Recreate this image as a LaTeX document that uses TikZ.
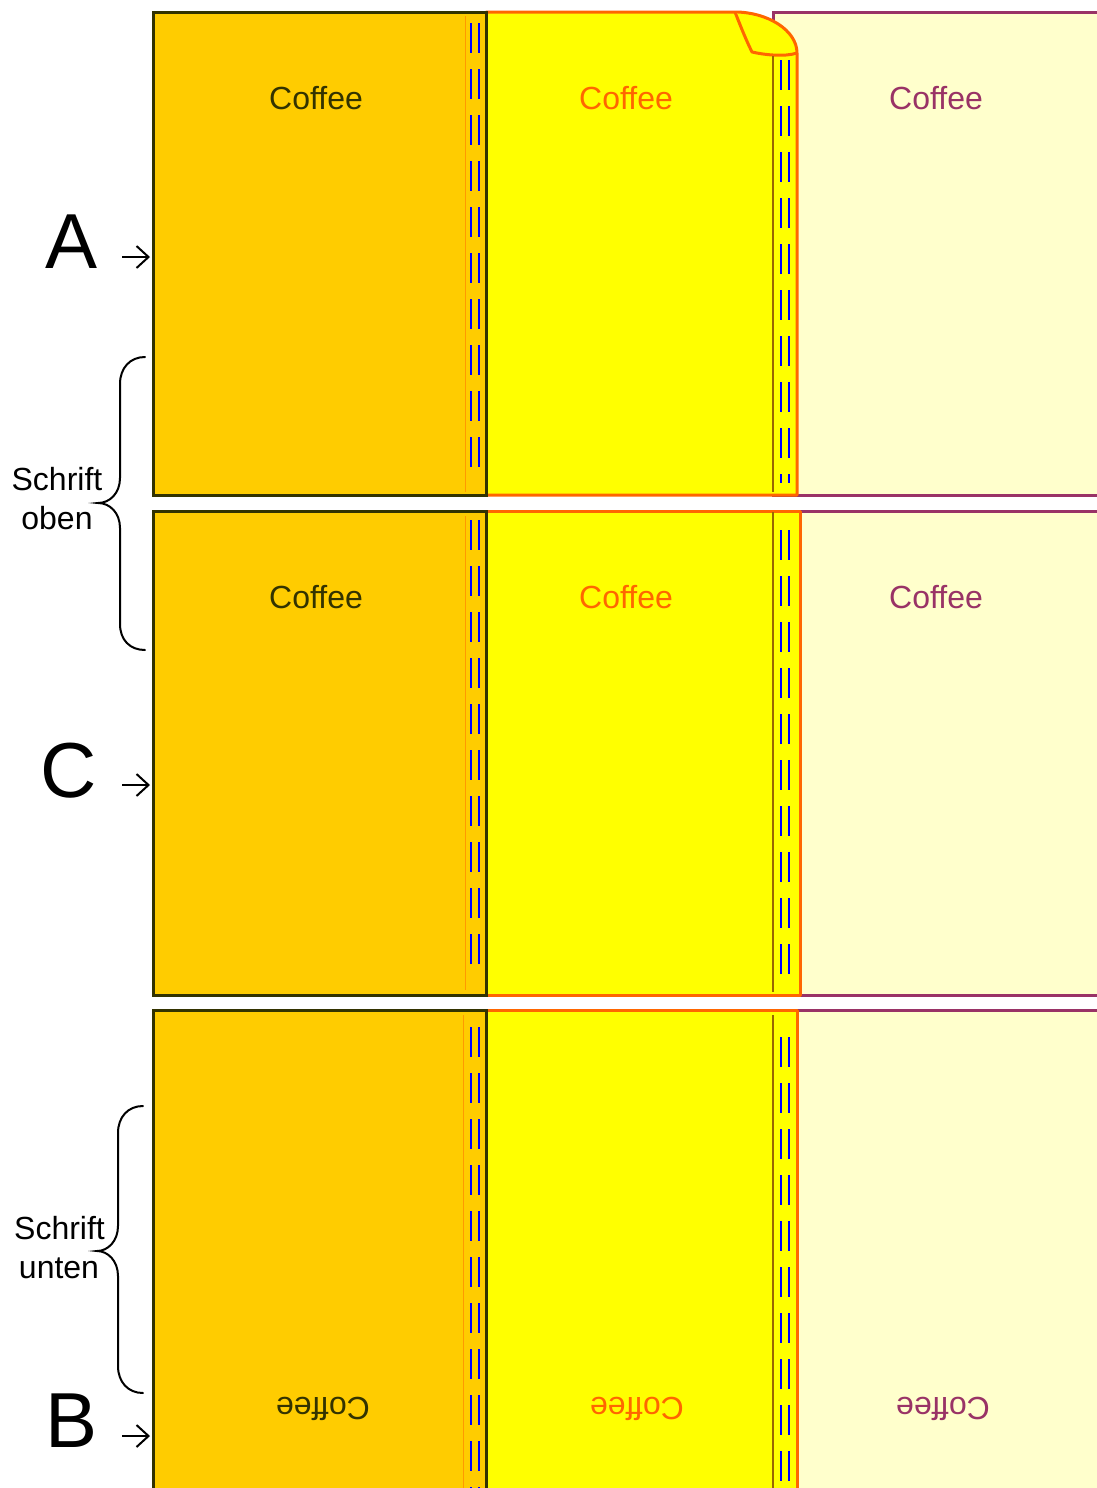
\documentclass[tikz,border=0pt]{standalone}
\usepackage{fontspec}
\setmainfont{Liberation Sans}
\usetikzlibrary{arrows.meta}
\definecolor{ofill}{HTML}{FFCC00}
\definecolor{oline}{HTML}{333300}
\definecolor{yfill}{HTML}{FFFF00}
\definecolor{yline}{HTML}{FF6600}
\definecolor{cfill}{HTML}{FFFFCC}
\definecolor{cline}{HTML}{993366}
\definecolor{sbrown}{HTML}{996600}
\definecolor{sorange}{HTML}{FF9900}
\begin{document}
\begin{tikzpicture}[x=0.5pt,y=-0.5pt,
  pone/.style={fill=ofill,draw=oline,line width=1.5pt},
  ptwo/.style={fill=yfill,draw=yline,line width=1.5pt,line join=round},
  pthree/.style={fill=cfill,draw=cline,line width=1.5pt},
  sline1/.style={draw=sorange,line width=0.5pt},
  sline2/.style={draw=sbrown,line width=0.6pt},
  stitch/.style={draw=blue,line width=1pt,dash pattern=on 15pt off 8pt},
  cof/.style={font=\fontsize{16}{19}\selectfont,anchor=base,inner sep=0pt},
  cof1/.style={cof,text=oline},
  cof2/.style={cof,text=yline},
  cof3/.style={cof,text=cline},
  lab/.style={font=\fontsize{16}{19}\selectfont,anchor=base,inner sep=0pt,text=black},
  big/.style={font=\fontsize{39}{40}\selectfont,anchor=base,inner sep=0pt,text=black},
  arr/.style={draw=black,line width=1pt,-{Straight Barb[length=6pt,width=11pt]}},
  bracel/.style={draw=black,line width=1pt,line cap=round}]
\useasboundingbox (0,0) rectangle (1097,1488);
\begin{scope}
\clip (0,0) rectangle (1097,1488);
% ---------- Row A ----------
\draw[pthree] (773,12) rectangle (1115,495);
\draw[ptwo] (486,12) -- (735,12) .. controls (767,12) and (797,30) .. (797,53) -- (797,495) -- (486,495) -- cycle;
\draw[ptwo] (735,12) .. controls (742,30) and (747,42) .. (752,52) .. controls (765,55) and (785,57) .. (797,53);
\draw[sline2] (773,56) -- (773,492);
\draw[stitch] (781,60) -- (781,483);
\draw[stitch] (789,60) -- (789,483);
\draw[pone] (153,12) rectangle (486,495);
\draw[sline1] (465,16) -- (465,492);
\draw[stitch] (471,23) -- (471,467);
\draw[stitch] (479,23) -- (479,467);
\node[cof1] (a1) at (316,109) {Coffee};
\node[cof2] (a2) at (626,109) {Coffee};
\node[cof3] (a3) at (936,109) {Coffee};
% ---------- Row C ----------
\draw[pthree] (800,511) rectangle (1115,995);
\draw[ptwo] (486,511) rectangle (800,995);
\draw[sline2] (773,512) -- (773,992);
\draw[stitch] (781,530) -- (781,974);
\draw[stitch] (789,530) -- (789,974);
\draw[pone] (153,511) rectangle (486,995);
\draw[sline1] (465,516) -- (465,990);
\draw[stitch] (471,520) -- (471,964);
\draw[stitch] (479,520) -- (479,964);
\node[cof1] (c1) at (316,608) {Coffee};
\node[cof2] (c2) at (626,608) {Coffee};
\node[cof3] (c3) at (936,608) {Coffee};
% ---------- Row B ----------
\draw[pthree] (797,1010) rectangle (1115,1520);
\draw[ptwo] (486,1010) rectangle (797,1520);
\draw[sline2] (773,1015) -- (773,1495);
\draw[stitch] (781,1037) -- (781,1500);
\draw[stitch] (789,1037) -- (789,1500);
\draw[pone] (153,1010) rectangle (486,1520);
\draw[sline1] (463,1015) -- (463,1495);
\draw[stitch] (471,1027) -- (471,1500);
\draw[stitch] (479,1027) -- (479,1500);
\node[cof1,rotate=180] (b1) at (323,1397) {Coffee};
\node[cof2,rotate=180] (b2) at (637,1397) {Coffee};
\node[cof3,rotate=180] (b3) at (943,1397) {Coffee};
\end{scope}
% ---------- Labels ----------
\node[big] (A) at (72,268) {A};
\node[big] (C) at (69,797) {C};
\node[big] (B) at (72,1447) {B};
\coordinate (As) at (122,257);
\coordinate (Ae) at (150,257);
\coordinate (Cs) at (122,785);
\coordinate (Ce) at (150,785);
\coordinate (Bs) at (122,1436);
\coordinate (Be) at (150,1436);
\draw[arr] (As) -- (Ae);
\draw[arr] (Cs) -- (Ce);
\draw[arr] (Bs) -- (Be);
% braces
\draw[bracel] (145,357) .. controls (130,357) and (120,368) .. (120,384) -- (120,478) .. controls (120,493) and (110,503) .. (98,503) .. controls (110,503) and (120,513) .. (120,528) -- (120,624) .. controls (120,640) and (130,650) .. (145,650);
\draw[bracel] (143,1106) .. controls (128,1106) and (118,1117) .. (118,1133) -- (118,1226) .. controls (118,1241) and (108,1251) .. (97,1251) .. controls (108,1251) and (118,1261) .. (118,1276) -- (118,1366) .. controls (118,1382) and (128,1393) .. (143,1393);
\node[lab] (so1) at (57,490) {Schrift};
\node[lab] (so2) at (57,529) {oben};
\node[lab] (su1) at (59.5,1239) {Schrift};
\node[lab] (su2) at (59,1278) {unten};
\end{tikzpicture}
\end{document}
